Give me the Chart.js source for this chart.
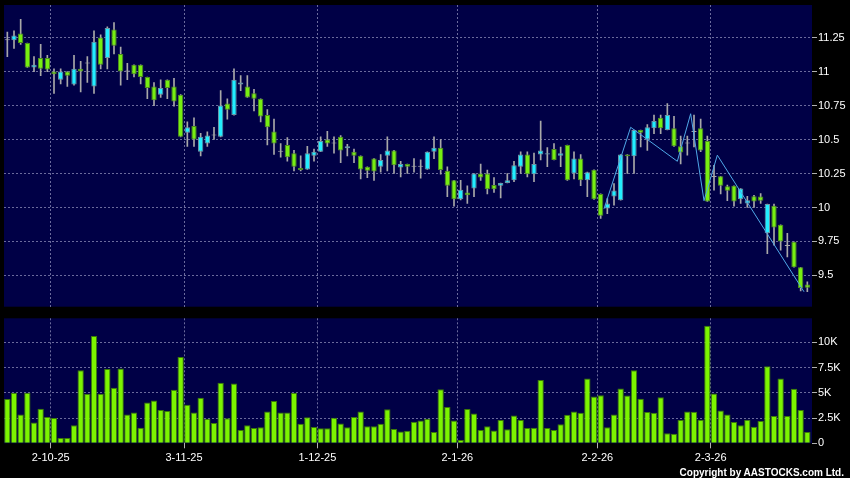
<!DOCTYPE html>
<html>
<head>
<meta charset="utf-8">
<script src="https://cdn.jsdelivr.net/npm/chart.js@4.4.1/dist/chart.umd.min.js"></script>
<style>
  html, body { margin: 0; padding: 0; background: #000; }
  #wrap { position: relative; width: 850px; height: 478px; overflow: hidden; background: #000; }
  #priceBox { position: absolute; left: 0; top: 0; width: 850px; height: 310px; }
  #volBox { position: absolute; left: 0; top: 310px; width: 850px; height: 168px; }
  #copy { position: absolute; right: 6px; top: 467px; line-height: 10px; color: #fff;
          font: bold 10px "Liberation Sans", Arial, sans-serif; white-space: nowrap; }
</style>
</head>
<body>
<div id="wrap">
  <div id="priceBox"><canvas id="price" width="850" height="310"></canvas></div>
  <div id="volBox"><canvas id="vol" width="850" height="168"></canvas></div>
  <div id="copy">Copyright by AASTOCKS.com Ltd.</div>
</div>
<script>
// daily candles, oldest first
const openP = [11.23, 11.23, 11.28, 11.21, 11.03, 11.10, 11.10, 11.00, 10.94, 11.00,
  10.905, 11.02, 11.06, 10.89, 11.25, 11.10, 11.31, 11.13, 11.00, 11.05,
  11.05, 10.96, 10.89, 10.83, 10.94, 10.89, 10.83, 10.55, 10.60, 10.41,
  10.47, 10.53, 10.52, 10.765, 10.68, 10.905, 10.89, 10.84, 10.80, 10.68,
  10.56, 10.41, 10.46, 10.40, 10.29, 10.28, 10.38, 10.41, 10.50, 10.47,
  10.52, 10.436, 10.41, 10.38, 10.30, 10.36, 10.30, 10.38, 10.42, 10.294,
  10.32, 10.30, 10.30, 10.28, 10.41, 10.44, 10.27, 10.20, 10.06, 10.11,
  10.14, 10.25, 10.25, 10.165, 10.16, 10.18, 10.20, 10.30, 10.39, 10.245,
  10.39, 10.39, 10.43, 10.38, 10.46, 10.25, 10.36, 10.20, 10.277, 10.10,
  9.993, 10.08, 10.054, 10.39, 10.377, 10.57, 10.50, 10.583, 10.66, 10.57,
  10.583, 10.45, 10.47, 10.556, 10.583, 10.49, 10.225, 10.23, 10.157, 10.16,
  10.06, 10.03, 10.083, 10.08, 9.81, 10.012, 9.873, 9.716, 9.748, 9.56,
  9.434];
const highP = [11.29, 11.30, 11.385, 11.21, 11.11, 11.20, 11.12, 11.02, 11.02, 11.00,
  11.12, 11.075, 11.11, 11.30, 11.27, 11.33, 11.36, 11.18, 11.06, 11.05,
  11.05, 10.96, 10.92, 10.94, 10.94, 10.95, 10.83, 10.63, 10.66, 10.545,
  10.556, 10.59, 10.86, 10.80, 11.02, 10.97, 10.97, 10.87, 10.80, 10.72,
  10.65, 10.47, 10.515, 10.42, 10.38, 10.45, 10.43, 10.52, 10.56, 10.52,
  10.53, 10.465, 10.43, 10.38, 10.30, 10.36, 10.39, 10.52, 10.42, 10.34,
  10.32, 10.36, 10.35, 10.41, 10.52, 10.50, 10.30, 10.20, 10.20, 10.16,
  10.25, 10.32, 10.275, 10.22, 10.18, 10.25, 10.34, 10.41, 10.41, 10.40,
  10.635, 10.44, 10.47, 10.445, 10.46, 10.41, 10.39, 10.26, 10.277, 10.10,
  10.066, 10.176, 10.39, 10.39, 10.57, 10.57, 10.61, 10.68, 10.68, 10.765,
  10.67, 10.525, 10.525, 10.68, 10.65, 10.525, 10.31, 10.23, 10.164, 10.16,
  10.14, 10.083, 10.09, 10.103, 10.025, 10.025, 9.873, 9.81, 9.748, 9.56,
  9.453];
const lowP = [11.11, 11.17, 11.20, 11.03, 11.00, 10.97, 11.00, 10.84, 10.91, 10.89,
  10.90, 10.85, 10.92, 10.84, 11.02, 11.02, 11.13, 10.90, 10.94, 10.96,
  10.91, 10.80, 10.75, 10.81, 10.80, 10.745, 10.52, 10.45, 10.45, 10.38,
  10.45, 10.50, 10.52, 10.65, 10.68, 10.86, 10.81, 10.71, 10.63, 10.46,
  10.39, 10.37, 10.34, 10.27, 10.27, 10.28, 10.34, 10.41, 10.45, 10.40,
  10.33, 10.38, 10.33, 10.21, 10.22, 10.20, 10.26, 10.27, 10.25, 10.225,
  10.25, 10.26, 10.215, 10.28, 10.36, 10.245, 10.08, 10.01, 10.055, 10.03,
  10.08, 10.20, 10.10, 10.11, 10.07, 10.18, 10.19, 10.25, 10.225, 10.19,
  10.35, 10.30, 10.35, 10.30, 10.20, 10.21, 10.16, 10.08, 10.06, 9.92,
  9.955, 10.017, 10.054, 10.25, 10.25, 10.446, 10.42, 10.544, 10.544, 10.57,
  10.45, 10.32, 10.385, 10.446, 10.41, 10.044, 10.127, 10.10, 10.05, 10.01,
  10.03, 10.00, 10.00, 10.03, 9.66, 9.723, 9.686, 9.637, 9.56, 9.387,
  9.38];
const closeP = [11.23, 11.265, 11.21, 11.03, 11.05, 11.02, 11.015, 10.98, 11.00, 10.97,
  11.02, 11.00, 11.06, 11.22, 11.05, 11.32, 11.19, 11.00, 11.00, 10.98,
  10.96, 10.88, 10.79, 10.88, 10.88, 10.78, 10.52, 10.59, 10.50, 10.52,
  10.53, 10.53, 10.75, 10.72, 10.94, 10.92, 10.81, 10.80, 10.67, 10.59,
  10.47, 10.41, 10.37, 10.30, 10.275, 10.40, 10.41, 10.49, 10.47, 10.47,
  10.42, 10.45, 10.38, 10.28, 10.27, 10.265, 10.35, 10.42, 10.31, 10.32,
  10.30, 10.30, 10.30, 10.41, 10.44, 10.275, 10.16, 10.06, 10.13, 10.09,
  10.25, 10.22, 10.135, 10.135, 10.18, 10.20, 10.31, 10.39, 10.245, 10.32,
  10.42, 10.40, 10.35, 10.40, 10.20, 10.36, 10.20, 10.26, 10.06, 9.94,
  10.03, 10.125, 10.39, 10.377, 10.57, 10.55, 10.59, 10.637, 10.583, 10.68,
  10.45, 10.404, 10.47, 10.556, 10.42, 10.044, 10.225, 10.16, 10.123, 10.044,
  10.14, 10.054, 10.044, 10.05, 10.025, 9.853, 9.75, 9.716, 9.56, 9.407,
  9.41];
const volume = [4376, 5000, 2860, 5000, 2070, 3420, 2600, 2500, 530, 530,
  1780, 7240, 4900, 10630, 4900, 7370, 5500, 7400, 2860, 3060,
  1550, 4050, 4240, 3290, 3190, 5300, 8550, 3820, 3060, 4500,
  2430, 2000, 5990, 2470, 5920, 1320, 1780, 1510, 1580, 3160,
  4180, 3060, 3060, 5000, 1940, 2570, 1610, 1480, 1480, 2530,
  1970, 1580, 2600, 3160, 1680, 1680, 1940, 3360, 1410, 1180,
  1250, 2140, 2270, 2430, 1120, 5360, 3590, 2270, 330, 3390,
  2960, 1320, 1680, 1280, 2300, 1380, 2760, 2300, 1510, 1550,
  6280, 1510, 1320, 1880, 2830, 3160, 3030, 6420, 4640, 4770,
  1580, 2860, 5430, 4740, 7240, 4410, 3090, 3030, 4570, 990,
  950, 2300, 3160, 3130, 2340, 11650, 4940, 3260, 2860, 2100,
  1780, 2340, 1650, 2200, 7630, 2700, 6420, 2700, 5400, 3290,
  1120];

// month markers: label and the candle it belongs to
const dateLabels = ['2-10-25', '3-11-25', '1-12-25', '2-1-26', '2-2-26', '2-3-26'];
const dateIndex = [6, 26, 46, 67, 88, 105];

// the thin blue zig-zag line over the last weeks
const zzIndex = [89.5, 93.5, 100.5, 102.5, 104.5, 106.5, 119.5];
const zzPrice = [9.99, 10.59, 10.34, 10.69, 10.05, 10.385, 9.38];

const priceTicks = [9.5, 9.75, 10, 10.25, 10.5, 10.75, 11, 11.25];
const volTicks = [0, 2500, 5000, 7500, 10000];

const FONT = '"Liberation Sans", Arial, sans-serif';
const GRID = '#6a6a9c';
const TICK = '#b0b0b0';
const UP = '#22eeff', UP_LINE = '#6a96a8';
const DOWN = '#77ee11', DOWN_LINE = '#4e8e1e';
const FLAT = '#a8a8a8';

// paint the navy plot area
const plotBg = {
    id: 'plotBg',
    beforeDraw(chart) {
        const { ctx, chartArea: a } = chart;
        ctx.save();
        ctx.fillStyle = '#000046';
        ctx.fillRect(a.left, a.top, a.right - a.left, a.bottom - a.top);
        ctx.restore();
    }
};

const idx = closeP.map((_, i) => i);
const bodyFill = idx.map(i => closeP[i] > openP[i] ? UP : (closeP[i] < openP[i] ? DOWN : FLAT));
const bodyLine = idx.map(i => closeP[i] > openP[i] ? UP_LINE : (closeP[i] < openP[i] ? DOWN_LINE : FLAT));

const xMin = -0.5, xMax = 120.7;
const gridTicks = ax => { ax.ticks = dateIndex.map(d => ({ value: d + 0.5 })); };

// keep the plot area where it is in the original (no room for overflowing labels)
const fixX = h => ax => { ax.height = h; ax.paddingLeft = 0; ax.paddingRight = 0; };
const fixY = ax => { ax.width = 38; ax.paddingTop = 0; ax.paddingBottom = 0; };

new Chart(document.getElementById('price'), {
    type: 'bar',
    data: {
        datasets: [
            {
                type: 'line',
                data: zzIndex.map((x, i) => ({ x: x, y: zzPrice[i] })),
                borderColor: '#4fa8e8',
                borderWidth: 1,
                pointRadius: 0,
                tension: 0
            },
            {
                data: idx.map(i => ({ x: i, y: [openP[i], closeP[i]] })),
                backgroundColor: bodyFill,
                borderColor: bodyLine,
                borderWidth: 1,
                borderSkipped: false,
                grouped: false,
                barPercentage: 0.8,
                categoryPercentage: 1,
                minBarLength: 1
            },
            {
                data: idx.map(i => ({ x: i, y: [lowP[i], highP[i]] })),
                backgroundColor: FLAT,
                barThickness: 1,
                grouped: false
            }
        ]
    },
    options: {
        responsive: false,
        animation: false,
        events: [],
        layout: { padding: { left: 4, top: 5, right: 0, bottom: 3.3 } },
        plugins: { legend: { display: false }, tooltip: { enabled: false } },
        scales: {
            x: {
                type: 'linear', min: xMin, max: xMax, offset: false,
                grid: { color: GRID, offset: false, drawTicks: false },
                border: { display: false, dash: [2, 2] },
                ticks: { display: false },
                afterBuildTicks: gridTicks,
                afterFit: fixX(0)
            },
            y: {
                position: 'right', min: 9.27, max: 11.49,
                grid: { color: GRID, tickColor: TICK, tickLength: 5 },
                border: { display: false, dash: [2, 2] },
                ticks: { color: '#fff', padding: 1, font: { family: FONT, size: 11 }, callback: v => String(v) },
                afterBuildTicks: ax => { ax.ticks = priceTicks.map(v => ({ value: v })); },
                afterFit: fixY
            }
        }
    },
    plugins: [plotBg]
});

new Chart(document.getElementById('vol'), {
    type: 'bar',
    data: {
        datasets: [{
            data: idx.map(i => ({ x: i, y: volume[i] })),
            backgroundColor: '#7cf400',
            borderColor: '#3c7a08',
            borderWidth: 1,
            barPercentage: 0.95,
            categoryPercentage: 1
        }]
    },
    options: {
        responsive: false,
        animation: false,
        events: [],
        layout: { padding: { left: 4, top: 8.3, right: 0, bottom: 0 } },
        plugins: { legend: { display: false }, tooltip: { enabled: false } },
        scales: {
            x: {
                type: 'linear', min: xMin, max: xMax, offset: false,
                grid: { color: GRID, offset: false, tickColor: TICK, tickLength: 5 },
                border: { display: false, dash: [2, 2] },
                ticks: {
                    color: '#fff', padding: 3, maxRotation: 0, autoSkip: false,
                    font: { family: FONT, size: 11 },
                    callback: (v, i) => dateLabels[i]
                },
                afterBuildTicks: gridTicks,
                afterFit: fixX(34.7)
            },
            y: {
                position: 'right', min: 0, max: 12380,
                grid: {
                    color: c => (c.tick && c.tick.value === 0) ? 'rgba(0,0,0,0)' : GRID,
                    tickColor: TICK, tickLength: 5
                },
                border: { display: false, dash: [2, 2] },
                ticks: {
                    color: '#fff', padding: 1, font: { family: FONT, size: 11 },
                    callback: v => v === 0 ? '0' : (v / 1000) + 'K'
                },
                afterBuildTicks: ax => { ax.ticks = volTicks.map(v => ({ value: v })); },
                afterFit: fixY
            }
        }
    },
    plugins: [plotBg]
});
</script>
</body>
</html>
